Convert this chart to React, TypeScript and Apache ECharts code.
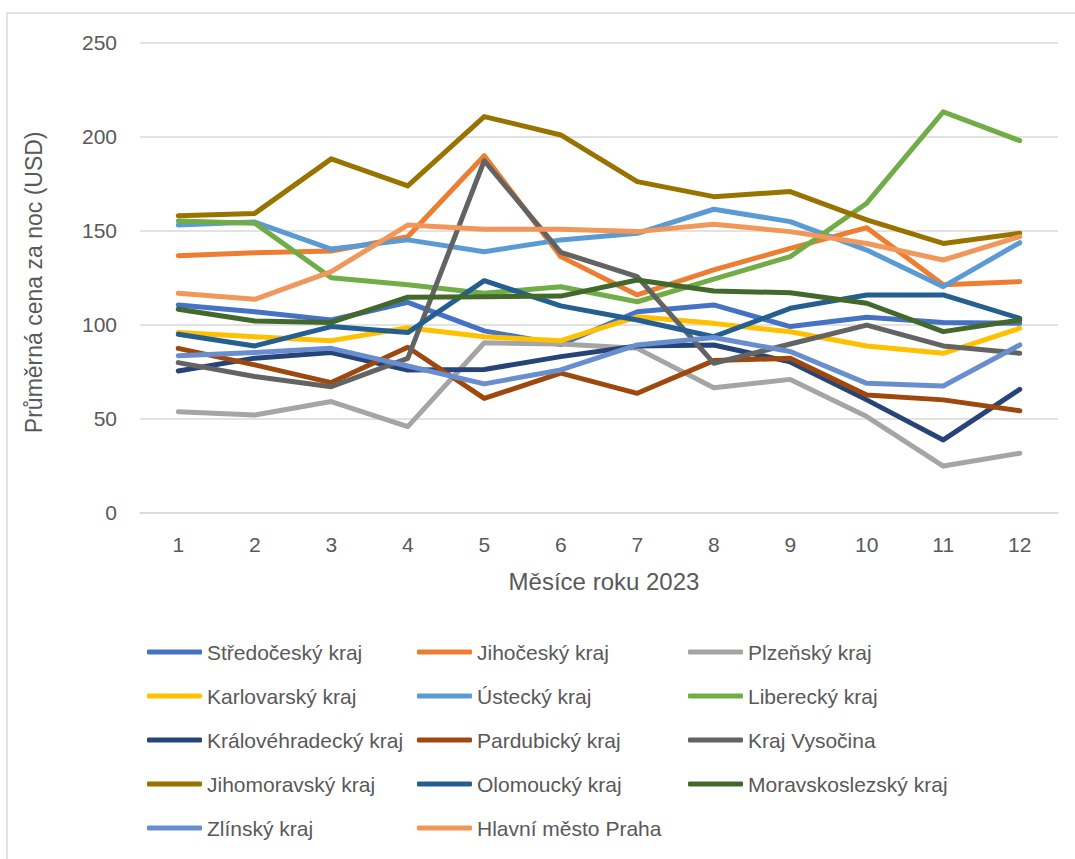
import React, { useEffect, useRef } from "react";
import * as echarts from "echarts";

// Months of 2023
const months = ["1", "2", "3", "4", "5", "6", "7", "8", "9", "10", "11", "12"];

// Average price per night (USD) by region and month
const stredocesky = [110.3, 106.7, 102.3, 111.7, 96.5, 89.3, 106.7, 110.3, 98.8, 103.7, 101, 100.5];
const jihocesky = [136.5, 138, 139, 146.6, 189.7, 136, 115.6, 128.9, 140.4, 151.4, 121, 122.7];
const plzensky = [53.5, 51.8, 58.9, 45.6, 90.2, 89.5, 87.2, 66.3, 70.7, 50.9, 24.6, 31.4];
const karlovarsky = [95.7, 93.4, 91.3, 98.2, 93.4, 91.3, 104, 100.5, 96, 88.5, 84.6, 97.9];
const ustecky = [152.8, 154.4, 140, 144.9, 138.6, 144.9, 148.4, 161.2, 154.6, 139.5, 120, 143.4];
const liberecky = [155, 153.8, 124.8, 121, 116.5, 120, 112, 124, 136, 164.4, 213, 197.7];
const kralovehradecky = [75.2, 82, 85, 75.7, 76, 82.8, 88.5, 89, 80, 59.8, 38.5, 65.4];
const pardubicky = [87.2, 78.4, 69, 87.8, 60.6, 74, 63.3, 80.7, 81.9, 62.4, 59.8, 54];
const vysocina = [79.6, 72.2, 66.8, 81.9, 187, 138.3, 125.4, 79.3, 89.5, 99.6, 88.5, 84.6];
const jihomoravsky = [157.8, 159, 188, 173.6, 210.5, 200.7, 175.9, 167.9, 170.6, 155.5, 143, 148.4];
const olomoucky = [94.7, 88.5, 98.8, 95.6, 123.2, 109.8, 102.3, 93.4, 108.5, 115.6, 115.6, 103.2];
const moravskoslezsky = [108, 101.8, 101, 114.4, 114.7, 115, 123.6, 117.7, 116.8, 111.2, 96.1, 102.3];
const zlinsky = [83.3, 85, 87.2, 77.8, 68.3, 75.7, 89, 93, 85.5, 68.6, 67.2, 89];
const praha = [116.5, 113.3, 128, 152.8, 150.5, 150.5, 149.3, 153.2, 149.3, 143, 134.2, 146.6];

const regionNames = [
  "Středočeský kraj",
  "Jihočeský kraj",
  "Plzeňský kraj",
  "Karlovarský kraj",
  "Ústecký kraj",
  "Liberecký kraj",
  "Královéhradecký kraj",
  "Pardubický kraj",
  "Kraj Vysočina",
  "Jihomoravský kraj",
  "Olomoucký kraj",
  "Moravskoslezský kraj",
  "Zlínský kraj",
  "Hlavní město Praha",
];

const regionValues = [
  stredocesky,
  jihocesky,
  plzensky,
  karlovarsky,
  ustecky,
  liberecky,
  kralovehradecky,
  pardubicky,
  vysocina,
  jihomoravsky,
  olomoucky,
  moravskoslezsky,
  zlinsky,
  praha,
];

const regionColors = [
  "#4472C4",
  "#ED7D31",
  "#A5A5A5",
  "#FFC000",
  "#5B9BD5",
  "#70AD47",
  "#264478",
  "#9E480E",
  "#636363",
  "#997300",
  "#255E91",
  "#43682B",
  "#698ED0",
  "#F1975A",
];

const FONT = "'Liberation Sans', Arial, sans-serif";
const TEXT_COLOR = "#595959";
const GRID_COLOR = "#d9d9d9";

// One legend column of the 3-column key below the plot
function legendColumn(col: number, left: number) {
  return {
    orient: "vertical" as const,
    left,
    top: 641,
    padding: 0,
    icon: "roundRect",
    itemWidth: 55,
    itemHeight: 5,
    itemGap: 22,
    data: regionNames.filter((_, i) => i % 3 === col),
    textStyle: {
      fontFamily: FONT,
      fontSize: 21,
      lineHeight: 22,
      color: TEXT_COLOR,
    },
  };
}

export default function App() {
  const ref = useRef<HTMLDivElement>(null);

  useEffect(() => {
    if (!ref.current) return;
    const chart = echarts.init(ref.current, undefined, { renderer: "svg" });

    chart.setOption({
      animation: false,
      backgroundColor: "#ffffff",
      textStyle: { fontFamily: FONT },
      grid: { left: 140, right: 17, top: 42.3, bottom: 346.7, containLabel: false },
      graphic: [
        {
          type: "rect",
          shape: { x: 7, y: 13, width: 1100, height: 900 },
          style: { fill: "none", stroke: GRID_COLOR, lineWidth: 1.5 },
          silent: true,
        },
      ],
      legend: [legendColumn(0, 147), legendColumn(1, 417), legendColumn(2, 688)],
      xAxis: {
        type: "category",
        data: months,
        boundaryGap: true,
        axisLine: { show: true, lineStyle: { color: GRID_COLOR, width: 1.5 } },
        axisTick: { show: false },
        axisLabel: { color: TEXT_COLOR, fontSize: 21, fontFamily: FONT, margin: 22 },
        name: "Měsíce roku 2023",
        nameLocation: "middle",
        nameGap: 57,
        nameTextStyle: { color: TEXT_COLOR, fontSize: 24, fontFamily: FONT, padding: [0, 0, 0, 10] },
      },
      yAxis: {
        type: "value",
        min: 0,
        max: 250,
        interval: 50,
        axisLine: { show: false },
        axisTick: { show: false },
        splitLine: { lineStyle: { color: GRID_COLOR, width: 1.5 } },
        axisLabel: { color: TEXT_COLOR, fontSize: 21, fontFamily: FONT, margin: 23 },
        name: "Průměrná cena za noc (USD)",
        nameLocation: "middle",
        nameGap: 95,
        nameTextStyle: { color: TEXT_COLOR, fontSize: 23, fontFamily: FONT, padding: [0, 10, 0, 0] },
      },
      series: regionNames.map((name, i) => ({
        name,
        type: "line",
        data: regionValues[i],
        symbol: "none",
        showSymbol: false,
        color: regionColors[i],
        lineStyle: { width: 5, color: regionColors[i], cap: "round", join: "round" },
        emphasis: { disabled: true },
      })),
    });

    return () => chart.dispose();
  }, []);

  return (
    <div
      ref={ref}
      style={{ position: "absolute", left: 0, top: 0, width: 1075, height: 859 }}
    />
  );
}
